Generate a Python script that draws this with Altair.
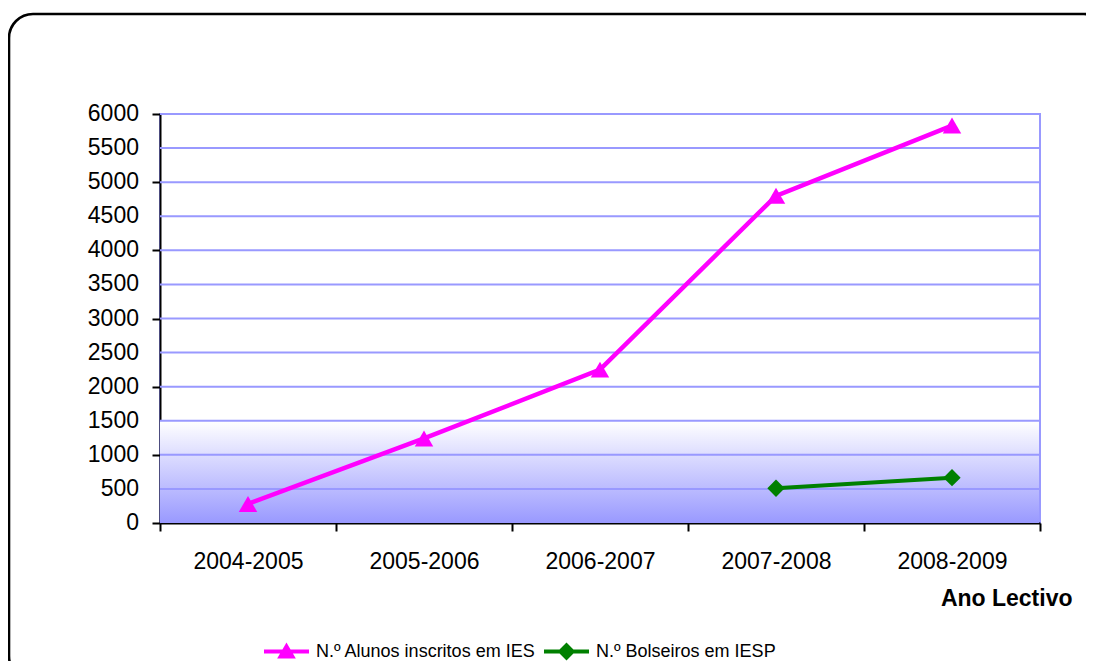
import altair as alt
import pandas as pd

years = ["2004-2005", "2005-2006", "2006-2007", "2007-2008", "2008-2009"]
alunos = [280, 1240, 2250, 4800, 5830]
bolseiros = [None, None, None, 510, 665]
series_names = ["N.º Alunos inscritos em IES", "N.º Bolseiros em IESP"]
series_colors = ["#ff00ff", "#008000"]
y_ticks = [0, 500, 1000, 1500, 2000, 2500, 3000, 3500, 4000, 4500, 5000, 5500, 6000]

rows = []
for yr, a, b in zip(years, alunos, bolseiros):
    if a is not None:
        rows.append({"ano": yr, "serie": series_names[0], "valor": a})
    if b is not None:
        rows.append({"ano": yr, "serie": series_names[1], "valor": b})
df = pd.DataFrame(rows)

W, H = 880, 409
FONT = "Liberation Sans"

yscale = alt.Scale(domain=[0, 6000], nice=False)
xscale = alt.Scale(domain=years, paddingInner=0, paddingOuter=0)

x_axis = alt.Axis(
    title="Ano Lectivo", labelAngle=0, tickBand="extent", labelOverlap=False,
    labelFontSize=23, labelFont=FONT, labelColor="black", labelPadding=19,
    domainColor="black", domainWidth=2, tickColor="black", tickWidth=2, tickSize=8,
    titleFont=FONT, titleFontSize=23, titleFontWeight="bold", titleColor="black",
    titleX=912, titleY=82, titleAlign="right", titleBaseline="alphabetic",
    grid=False,
)
y_axis = alt.Axis(
    title=None, values=y_ticks, labels=False,
    domainColor="black", domainWidth=2, tickColor="black", tickWidth=2, tickSize=8,
    grid=False,
)

frame = alt.Chart(alt.Data(values=[{}])).mark_rect(
    filled=False, stroke="black", strokeWidth=2.6, cornerRadius=24, clip=False
).encode(
    x=alt.value(-151), x2=alt.value(948), y=alt.value(-100), y2=alt.value(566)
)

grad = alt.Chart(alt.Data(values=[{}])).mark_rect(
    fill=alt.Gradient(
        gradient="linear",
        stops=[alt.GradientStop(color="#ffffff", offset=0),
               alt.GradientStop(color="#9999ff", offset=1)],
        x1=0, x2=0, y1=0, y2=1,
    )
).encode(
    x=alt.value(0), x2=alt.value(W - 1),
    y=alt.datum(1500, scale=yscale), y2=alt.datum(0)
)

ticks_df = pd.DataFrame({"v": y_ticks})

grid = alt.Chart(ticks_df).transform_filter(alt.datum.v > 0).mark_rule(
    color="#9999ff", strokeWidth=2
).encode(
    y=alt.Y("v:Q", scale=yscale, axis=y_axis),
    x=alt.value(0), x2=alt.value(W),
)

ylabels = alt.Chart(ticks_df).mark_text(
    align="right", baseline="middle", font=FONT, fontSize=23, color="black", clip=False
).encode(
    y=alt.Y("v:Q", scale=yscale, axis=y_axis),
    x=alt.value(-21),
    text=alt.Text("v:Q", format="d"),
)

legend_paths = [
    "M-1,0L1,0M0,-0.22L0.26,0.22L-0.26,0.22Z",
    "M-1,0L1,0M-0.27,0L0,-0.27L0.27,0L0,0.27Z",
]
legend_x = [102, 382]
shapes = ["triangle-up", "diamond"]
sizes = [340, 300]


def series_layers(i):
    base = alt.Chart(df).transform_filter(alt.datum.serie == series_names[i]).encode(
        x=alt.X("ano:N", scale=xscale, sort=years, axis=x_axis),
        y=alt.Y("valor:Q", scale=yscale, axis=y_axis),
    )
    line = base.mark_line(strokeWidth=4.5 if i == 0 else 4).encode(
        color=alt.Color(
            "serie:N",
            scale=alt.Scale(domain=[series_names[i]], range=[series_colors[i]]),
            legend=alt.Legend(
                title=None, orient="none", legendX=legend_x[i], legendY=513,
                labelFont=FONT, labelFontSize=18, labelColor="black", labelOffset=5,
                labelLimit=400, padding=0, symbolSize=2025,
                symbolType=legend_paths[i], symbolFillColor=series_colors[i],
                symbolStrokeColor=series_colors[i], symbolStrokeWidth=4,
                symbolOpacity=1,
            ),
        )
    )
    pts = base.mark_point(
        shape=shapes[i], filled=True, size=sizes[i], opacity=1, color=series_colors[i]
    )
    return line, pts


la, pa = series_layers(0)
lb, pb = series_layers(1)

chart = alt.layer(frame, grad, grid, ylabels, la, lb, pa, pb).resolve_scale(
    color="independent"
).properties(
    width=W, height=H,
    padding={"left": 152, "top": 106, "right": 46, "bottom": 138},
    autosize=alt.AutoSizeParams(type="none"),
    background="white",
).configure_view(
    stroke="#9999ff", strokeWidth=2
)

chart.save("out.html", embed_options={"renderer": "svg", "actions": False})
